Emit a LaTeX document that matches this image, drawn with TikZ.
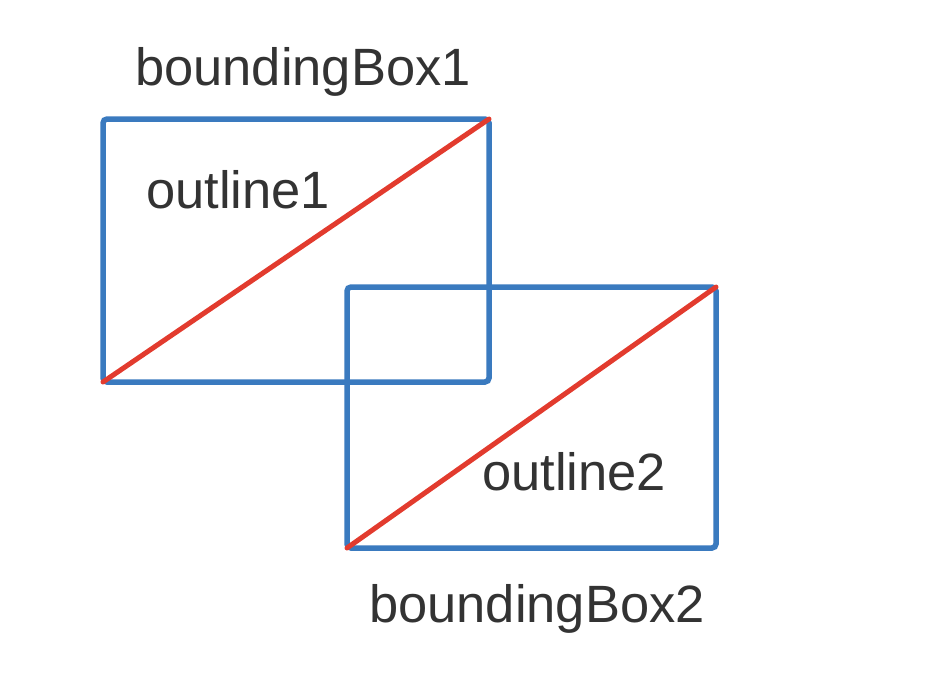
\documentclass[tikz,border=0pt]{standalone}
\usepackage{fontspec}
\setmainfont{Liberation Sans}
\usetikzlibrary{positioning}
\definecolor{boxblue}{HTML}{3A7ABF}
\definecolor{diagred}{HTML}{E23B2E}
\definecolor{labelgray}{HTML}{333333}
\tikzset{
    bbox/.style={draw=boxblue, line width=5.5pt, rounded corners=4pt, inner sep=0pt, outer sep=0pt},
    outline/.style={draw=diagred, line width=5pt, line cap=round},
    lbl/.style={text=labelgray, inner sep=0pt, anchor=base west, font=\fontsize{52.5}{60}\selectfont}
}
\begin{document}
\begin{tikzpicture}[x=1pt, y=-1pt]
    \useasboundingbox (0,0) rectangle (948,678);
    \node[bbox, minimum width=386pt, minimum height=263pt] (box1) at (296,250.5) {};
    \node[bbox, minimum width=369pt, minimum height=261pt] (box2) at (531.5,417.5) {};
    \draw[outline] (box1.south west) -- (box1.north east);
    \draw[outline] (box2.south west) -- (box2.north east);
    \node[lbl] (bb1) at (135,85) {boundingBox1};
    \node[lbl] (ol1) at (146,208) {outline1};
    \node[lbl] (ol2) at (482,490) {outline2};
    \node[lbl] (bb2) at (369,622) {boundingBox2};
\end{tikzpicture}
\end{document}
